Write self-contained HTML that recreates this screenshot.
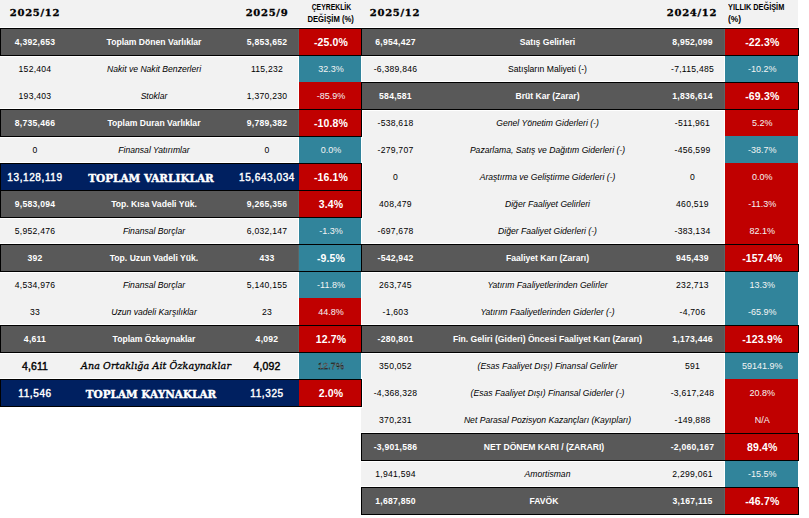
<!DOCTYPE html>
<html lang="tr"><head><meta charset="utf-8"><title>Finansal Tablo</title><style>
*{margin:0;padding:0;box-sizing:border-box}
html,body{width:809px;height:518px;overflow:hidden;background:#fff}
body{position:relative;font-family:"Liberation Sans",Arial,sans-serif}
div{position:absolute}
.hdr{left:0;top:0;width:798px;height:27px;background:#f2f2f2}
.bg{background:#f2f2f2}
.wv{width:1px;background:#fff}
.wh{height:1px;background:#fff}
.wo{background:#fff}
.row{height:28px;border:1px solid #000;background:#595959}
.row.navy{background:#002060}
.sep{width:1px;height:26px;background:#5d6565}
.pc{height:26px}
.pc.r{background:#c00000}
.pc.t{background:#31849b}
.t{height:26px;line-height:26px;text-align:center;white-space:nowrap;color:#000;font-size:8.6px}
.t.num{letter-spacing:.25px}
.t.dark{color:#fff;font-weight:bold}
.t.navy{color:#fff;font-weight:bold}
.t.lab.li{font-style:italic}
.t.pct{color:#f4f4f4;font-size:9px;letter-spacing:0}
.t.pct.dark,.t.pct.navy{color:#fff;font-size:10.5px;letter-spacing:.15px;font-weight:bold}
.t.lab.navy{font-family:"DejaVu Serif",serif;font-size:10.5px;letter-spacing:0;padding-top:1px;-webkit-text-stroke:.4px #fff}
.t.num.navy{font-size:10px;letter-spacing:.6px;font-weight:normal;-webkit-text-stroke:.4px #fff;padding-top:.5px}
.t.sp{font-size:10.5px;font-weight:normal;color:#000;letter-spacing:.1px;-webkit-text-stroke:.4px #000}
.t.lab.sp{font-family:"DejaVu Serif",serif;font-style:italic;font-weight:normal;font-size:9.5px;-webkit-text-stroke:.3px #000}
.t.pct.sp{font-size:9px;font-weight:normal;color:#f4f4f4}
.h{font-family:"DejaVu Serif",serif;font-weight:bold;font-size:10px;letter-spacing:.7px;color:#000;-webkit-text-stroke:.3px #000;top:7px;height:12px;line-height:12px;text-align:center}
.hs{font-family:"Liberation Sans",sans-serif;font-weight:bold;font-size:8.8px;color:#000;line-height:10px;height:10px;white-space:nowrap}
.hs span{display:inline-block}
</style></head><body>
<div class="hdr"></div>
<div class="h" style="left:1px;width:68px">2025/12</div>
<div class="h" style="left:236px;width:62px">2025/9</div>
<div class="hs" style="left:300px;top:2px;width:62px;text-align:center"><span style="transform:scaleX(.777)">ÇEYREKLİK</span></div>
<div class="hs" style="left:300px;top:14px;width:62px;text-align:center"><span style="transform:scaleX(.872)">DEĞİŞİM (%)</span></div>
<div class="h" style="left:362px;width:66px">2025/12</div>
<div class="h" style="left:660px;width:64px">2024/12</div>
<div class="hs" style="left:727.5px;top:2px;width:75px;text-align:left"><span style="transform:scaleX(.834);transform-origin:0 50%">YILLIK DEĞİŞİM</span></div>
<div class="hs" style="left:727.5px;top:14px;width:75px;text-align:left"><span style="transform:scaleX(.96);transform-origin:0 50%">(%)</span></div>
<div class="bg" style="left:0px;top:28px;width:361px;height:379px"></div>
<div class="wv" style="left:298px;top:28px;height:379px"></div>
<div class="bg" style="left:361px;top:28px;width:437px;height:487px"></div>
<div class="wv" style="left:724px;top:28px;height:487px"></div>
<div class="wv" style="left:361px;top:28px;height:379px"></div>
<div class="wo" style="left:0px;top:27px;width:363px;height:30px"></div>
<div class="wo" style="left:0px;top:108px;width:363px;height:30px"></div>
<div class="wo" style="left:0px;top:162px;width:363px;height:30px"></div>
<div class="wo" style="left:0px;top:189px;width:363px;height:30px"></div>
<div class="wo" style="left:0px;top:243px;width:363px;height:30px"></div>
<div class="wo" style="left:0px;top:324px;width:363px;height:30px"></div>
<div class="wo" style="left:0px;top:378px;width:363px;height:30px"></div>
<div class="wo" style="left:360px;top:27px;width:440px;height:30px"></div>
<div class="wo" style="left:360px;top:81px;width:440px;height:30px"></div>
<div class="wo" style="left:360px;top:243px;width:440px;height:30px"></div>
<div class="wo" style="left:360px;top:324px;width:440px;height:30px"></div>
<div class="wo" style="left:360px;top:432px;width:440px;height:30px"></div>
<div class="wo" style="left:360px;top:486px;width:440px;height:30px"></div>
<div class="pc t" style="left:299px;top:55px;width:62px;height:28px"></div>
<div class="pc r" style="left:299px;top:82px;width:62px;height:28px"></div>
<div class="pc t" style="left:299px;top:136px;width:62px;height:28px"></div>
<div class="pc t" style="left:299px;top:217px;width:62px;height:28px"></div>
<div class="pc t" style="left:299px;top:271px;width:62px;height:28px"></div>
<div class="pc r" style="left:299px;top:298px;width:62px;height:28px"></div>
<div class="pc t" style="left:299px;top:352px;width:62px;height:28px"></div>
<div class="pc t" style="left:725px;top:55px;width:73px;height:28px"></div>
<div class="pc r" style="left:725px;top:109px;width:73px;height:28px"></div>
<div class="pc t" style="left:725px;top:136px;width:73px;height:28px"></div>
<div class="pc r" style="left:725px;top:163px;width:73px;height:28px"></div>
<div class="pc r" style="left:725px;top:190px;width:73px;height:28px"></div>
<div class="pc r" style="left:725px;top:217px;width:73px;height:28px"></div>
<div class="pc t" style="left:725px;top:271px;width:73px;height:28px"></div>
<div class="pc t" style="left:725px;top:298px;width:73px;height:28px"></div>
<div class="pc t" style="left:725px;top:352px;width:73px;height:28px"></div>
<div class="pc r" style="left:725px;top:379px;width:73px;height:28px"></div>
<div class="pc r" style="left:725px;top:406px;width:73px;height:28px"></div>
<div class="pc t" style="left:725px;top:460px;width:73px;height:28px"></div>
<div class="row dark" style="left:0px;top:28px;width:362px"></div>
<div class="sep" style="left:298px;top:29px"></div>
<div class="pc r" style="left:299px;top:29px;width:62px"></div>
<div class="row dark" style="left:0px;top:109px;width:362px"></div>
<div class="sep" style="left:298px;top:110px"></div>
<div class="pc r" style="left:299px;top:110px;width:62px"></div>
<div class="row navy" style="left:0px;top:163px;width:362px"></div>
<div class="pc r" style="left:299px;top:164px;width:62px"></div>
<div class="row dark" style="left:0px;top:190px;width:362px"></div>
<div class="sep" style="left:298px;top:191px"></div>
<div class="pc r" style="left:299px;top:191px;width:62px"></div>
<div class="row dark" style="left:0px;top:244px;width:362px"></div>
<div class="sep" style="left:298px;top:245px"></div>
<div class="pc t" style="left:299px;top:245px;width:62px"></div>
<div class="row dark" style="left:0px;top:325px;width:362px"></div>
<div class="sep" style="left:298px;top:326px"></div>
<div class="pc r" style="left:299px;top:326px;width:62px"></div>
<div class="row navy" style="left:0px;top:379px;width:362px"></div>
<div class="pc r" style="left:299px;top:380px;width:62px"></div>
<div class="row dark" style="left:361px;top:28px;width:438px"></div>
<div class="sep" style="left:724px;top:29px"></div>
<div class="pc r" style="left:725px;top:29px;width:73px"></div>
<div class="row dark" style="left:361px;top:82px;width:438px"></div>
<div class="sep" style="left:724px;top:83px"></div>
<div class="pc r" style="left:725px;top:83px;width:73px"></div>
<div class="row dark" style="left:361px;top:244px;width:438px"></div>
<div class="sep" style="left:724px;top:245px"></div>
<div class="pc r" style="left:725px;top:245px;width:73px"></div>
<div class="row dark" style="left:361px;top:325px;width:438px"></div>
<div class="sep" style="left:724px;top:326px"></div>
<div class="pc r" style="left:725px;top:326px;width:73px"></div>
<div class="row dark" style="left:361px;top:433px;width:438px"></div>
<div class="sep" style="left:724px;top:434px"></div>
<div class="pc r" style="left:725px;top:434px;width:73px"></div>
<div class="row dark" style="left:361px;top:487px;width:438px"></div>
<div class="sep" style="left:724px;top:488px"></div>
<div class="pc r" style="left:725px;top:488px;width:73px"></div>
<div class="t num dark" style="left:1px;top:29px;width:68px">4,392,653</div>
<div class="t lab dark" style="left:70px;top:29px;width:168px">Toplam Dönen Varlıklar</div>
<div class="t num dark" style="left:236px;top:29px;width:62px">5,853,652</div>
<div class="t pct dark" style="left:300px;top:29px;width:62px">-25.0%</div>
<div class="t num li" style="left:1px;top:56px;width:68px">152,404</div>
<div class="t lab li" style="left:70px;top:56px;width:168px">Nakit ve Nakit Benzerleri</div>
<div class="t num li" style="left:236px;top:56px;width:62px">115,232</div>
<div class="t pct li" style="left:300px;top:56px;width:62px">32.3%</div>
<div class="t num li" style="left:1px;top:83px;width:68px">193,403</div>
<div class="t lab li" style="left:70px;top:83px;width:168px">Stoklar</div>
<div class="t num li" style="left:236px;top:83px;width:62px">1,370,230</div>
<div class="t pct li" style="left:300px;top:83px;width:62px">-85.9%</div>
<div class="t num dark" style="left:1px;top:110px;width:68px">8,735,466</div>
<div class="t lab dark" style="left:70px;top:110px;width:168px">Toplam Duran Varlıklar</div>
<div class="t num dark" style="left:236px;top:110px;width:62px">9,789,382</div>
<div class="t pct dark" style="left:300px;top:110px;width:62px">-10.8%</div>
<div class="t num li" style="left:1px;top:137px;width:68px">0</div>
<div class="t lab li" style="left:70px;top:137px;width:168px">Finansal Yatırımlar</div>
<div class="t num li" style="left:236px;top:137px;width:62px">0</div>
<div class="t pct li" style="left:300px;top:137px;width:62px">0.0%</div>
<div class="t num navy" style="left:1px;top:164px;width:68px">13,128,119</div>
<div class="t lab navy" style="left:67px;top:164px;width:168px">TOPLAM VARLIKLAR</div>
<div class="t num navy" style="left:236px;top:164px;width:62px">15,643,034</div>
<div class="t pct navy" style="left:300px;top:164px;width:62px">-16.1%</div>
<div class="t num dark" style="left:1px;top:191px;width:68px">9,583,094</div>
<div class="t lab dark" style="left:70px;top:191px;width:168px">Top. Kısa Vadeli Yük.</div>
<div class="t num dark" style="left:236px;top:191px;width:62px">9,265,356</div>
<div class="t pct dark" style="left:300px;top:191px;width:62px">3.4%</div>
<div class="t num li" style="left:1px;top:218px;width:68px">5,952,476</div>
<div class="t lab li" style="left:70px;top:218px;width:168px">Finansal Borçlar</div>
<div class="t num li" style="left:236px;top:218px;width:62px">6,032,147</div>
<div class="t pct li" style="left:300px;top:218px;width:62px">-1.3%</div>
<div class="t num dark" style="left:1px;top:245px;width:68px">392</div>
<div class="t lab dark" style="left:70px;top:245px;width:168px">Top. Uzun Vadeli Yük.</div>
<div class="t num dark" style="left:236px;top:245px;width:62px">433</div>
<div class="t pct dark" style="left:300px;top:245px;width:62px">-9.5%</div>
<div class="t num li" style="left:1px;top:272px;width:68px">4,534,976</div>
<div class="t lab li" style="left:70px;top:272px;width:168px">Finansal Borçlar</div>
<div class="t num li" style="left:236px;top:272px;width:62px">5,140,155</div>
<div class="t pct li" style="left:300px;top:272px;width:62px">-11.8%</div>
<div class="t num li" style="left:1px;top:299px;width:68px">33</div>
<div class="t lab li" style="left:70px;top:299px;width:168px">Uzun vadeli Karşılıklar</div>
<div class="t num li" style="left:236px;top:299px;width:62px">23</div>
<div class="t pct li" style="left:300px;top:299px;width:62px">44.8%</div>
<div class="t num dark" style="left:1px;top:326px;width:68px">4,611</div>
<div class="t lab dark" style="left:70px;top:326px;width:168px">Toplam Özkaynaklar</div>
<div class="t num dark" style="left:236px;top:326px;width:62px">4,092</div>
<div class="t pct dark" style="left:300px;top:326px;width:62px">12.7%</div>
<div class="t num sp" style="left:1px;top:353px;width:68px">4,611</div>
<div class="t lab sp" style="left:72px;top:353px;width:168px">Ana Ortaklığa Ait Özkaynaklar</div>
<div class="t num sp" style="left:236px;top:353px;width:62px">4,092</div>
<div class="t pct sp" style="left:300px;top:353px;width:62px">12.7%</div>
<div class="t num navy" style="left:1px;top:380px;width:68px">11,546</div>
<div class="t lab navy" style="left:67px;top:380px;width:168px">TOPLAM KAYNAKLAR</div>
<div class="t num navy" style="left:236px;top:380px;width:62px">11,325</div>
<div class="t pct navy" style="left:300px;top:380px;width:62px">2.0%</div>
<div class="t num dark" style="left:362px;top:29px;width:67px">6,954,427</div>
<div class="t lab dark" style="left:431px;top:29px;width:233px">Satış Gelirleri</div>
<div class="t num dark" style="left:660px;top:29px;width:65px">8,952,099</div>
<div class="t pct dark" style="left:725.8px;top:29px;width:73px">-22.3%</div>
<div class="t num lr" style="left:362px;top:56px;width:67px">-6,389,846</div>
<div class="t lab lr" style="left:431px;top:56px;width:233px">Satışların Maliyeti (-)</div>
<div class="t num lr" style="left:660px;top:56px;width:65px">-7,115,485</div>
<div class="t pct lr" style="left:725.8px;top:56px;width:73px">-10.2%</div>
<div class="t num dark" style="left:362px;top:83px;width:67px">584,581</div>
<div class="t lab dark" style="left:431px;top:83px;width:233px">Brüt Kar (Zarar)</div>
<div class="t num dark" style="left:660px;top:83px;width:65px">1,836,614</div>
<div class="t pct dark" style="left:725.8px;top:83px;width:73px">-69.3%</div>
<div class="t num li" style="left:362px;top:110px;width:67px">-538,618</div>
<div class="t lab li" style="left:431px;top:110px;width:233px">Genel Yönetim Giderleri (-)</div>
<div class="t num li" style="left:660px;top:110px;width:65px">-511,961</div>
<div class="t pct li" style="left:725.8px;top:110px;width:73px">5.2%</div>
<div class="t num li" style="left:362px;top:137px;width:67px">-279,707</div>
<div class="t lab li" style="left:431px;top:137px;width:233px">Pazarlama, Satış ve Dağıtım Giderleri (-)</div>
<div class="t num li" style="left:660px;top:137px;width:65px">-456,599</div>
<div class="t pct li" style="left:725.8px;top:137px;width:73px">-38.7%</div>
<div class="t num li" style="left:362px;top:164px;width:67px">0</div>
<div class="t lab li" style="left:431px;top:164px;width:233px">Araştırma ve Geliştirme Giderleri (-)</div>
<div class="t num li" style="left:660px;top:164px;width:65px">0</div>
<div class="t pct li" style="left:725.8px;top:164px;width:73px">0.0%</div>
<div class="t num li" style="left:362px;top:191px;width:67px">408,479</div>
<div class="t lab li" style="left:431px;top:191px;width:233px">Diğer Faaliyet Gelirleri</div>
<div class="t num li" style="left:660px;top:191px;width:65px">460,519</div>
<div class="t pct li" style="left:725.8px;top:191px;width:73px">-11.3%</div>
<div class="t num li" style="left:362px;top:218px;width:67px">-697,678</div>
<div class="t lab li" style="left:431px;top:218px;width:233px">Diğer Faaliyet Giderleri (-)</div>
<div class="t num li" style="left:660px;top:218px;width:65px">-383,134</div>
<div class="t pct li" style="left:725.8px;top:218px;width:73px">82.1%</div>
<div class="t num dark" style="left:362px;top:245px;width:67px">-542,942</div>
<div class="t lab dark" style="left:431px;top:245px;width:233px">Faaliyet Karı (Zararı)</div>
<div class="t num dark" style="left:660px;top:245px;width:65px">945,439</div>
<div class="t pct dark" style="left:725.8px;top:245px;width:73px">-157.4%</div>
<div class="t num li" style="left:362px;top:272px;width:67px">263,745</div>
<div class="t lab li" style="left:431px;top:272px;width:233px">Yatırım Faaliyetlerinden Gelirler</div>
<div class="t num li" style="left:660px;top:272px;width:65px">232,713</div>
<div class="t pct li" style="left:725.8px;top:272px;width:73px">13.3%</div>
<div class="t num li" style="left:362px;top:299px;width:67px">-1,603</div>
<div class="t lab li" style="left:431px;top:299px;width:233px">Yatırım Faaliyetlerinden Giderler (-)</div>
<div class="t num li" style="left:660px;top:299px;width:65px">-4,706</div>
<div class="t pct li" style="left:725.8px;top:299px;width:73px">-65.9%</div>
<div class="t num dark" style="left:362px;top:326px;width:67px">-280,801</div>
<div class="t lab dark" style="left:431px;top:326px;width:233px">Fin. Geliri (Gideri) Öncesi Faaliyet Karı (Zararı)</div>
<div class="t num dark" style="left:660px;top:326px;width:65px">1,173,446</div>
<div class="t pct dark" style="left:725.8px;top:326px;width:73px">-123.9%</div>
<div class="t num li" style="left:362px;top:353px;width:67px">350,052</div>
<div class="t lab li" style="left:431px;top:353px;width:233px">(Esas Faaliyet Dışı) Finansal Gelirler</div>
<div class="t num li" style="left:660px;top:353px;width:65px">591</div>
<div class="t pct li" style="left:725.8px;top:353px;width:73px">59141.9%</div>
<div class="t num li" style="left:362px;top:380px;width:67px">-4,368,328</div>
<div class="t lab li" style="left:431px;top:380px;width:233px">(Esas Faaliyet Dışı) Finansal Giderler (-)</div>
<div class="t num li" style="left:660px;top:380px;width:65px">-3,617,248</div>
<div class="t pct li" style="left:725.8px;top:380px;width:73px">20.8%</div>
<div class="t num li" style="left:362px;top:407px;width:67px">370,231</div>
<div class="t lab li" style="left:431px;top:407px;width:233px">Net Parasal Pozisyon Kazançları (Kayıpları)</div>
<div class="t num li" style="left:660px;top:407px;width:65px">-149,888</div>
<div class="t pct li" style="left:725.8px;top:407px;width:73px">N/A</div>
<div class="t num dark" style="left:362px;top:434px;width:67px">-3,901,586</div>
<div class="t lab dark" style="left:427.5px;top:434px;width:233px">NET DÖNEM KARI / (ZARARI)</div>
<div class="t num dark" style="left:660px;top:434px;width:65px">-2,060,167</div>
<div class="t pct dark" style="left:725.8px;top:434px;width:73px">89.4%</div>
<div class="t num li" style="left:362px;top:461px;width:67px">1,941,594</div>
<div class="t lab li" style="left:431px;top:461px;width:233px">Amortisman</div>
<div class="t num li" style="left:660px;top:461px;width:65px">2,299,061</div>
<div class="t pct li" style="left:725.8px;top:461px;width:73px">-15.5%</div>
<div class="t num dark" style="left:362px;top:488px;width:67px">1,687,850</div>
<div class="t lab dark" style="left:427.5px;top:488px;width:233px">FAVÖK</div>
<div class="t num dark" style="left:660px;top:488px;width:65px">3,167,115</div>
<div class="t pct dark" style="left:725.8px;top:488px;width:73px">-46.7%</div>
</body></html>
